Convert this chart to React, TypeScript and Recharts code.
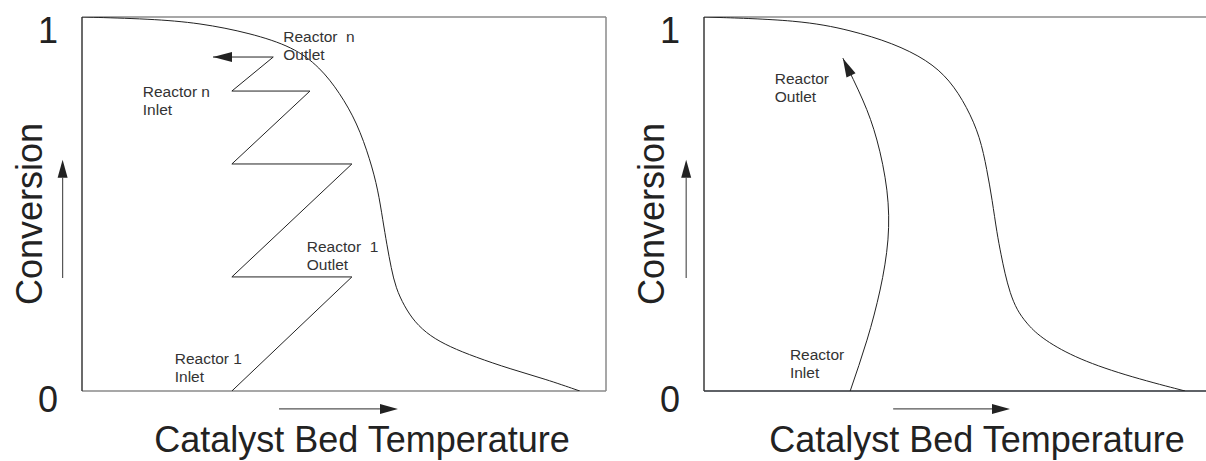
import React from 'react';
import { LineChart, Line, XAxis, YAxis, ReferenceLine, ReferenceDot, Label } from 'recharts';

type Pt = { x: number; y: number };
type Note = { x: number; y: number; lines: string[] };

// equilibrium conversion vs bed temperature (both panels, normalised 0..1)
const equilLeft: Pt[] = [
  { x: 0, y: 1 }, { x: 0.13, y: 0.995 }, { x: 0.225, y: 0.984 }, { x: 0.321, y: 0.957 },
  { x: 0.403, y: 0.92 }, { x: 0.454, y: 0.866 }, { x: 0.492, y: 0.797 }, { x: 0.525, y: 0.717 },
  { x: 0.55, y: 0.618 }, { x: 0.565, y: 0.537 }, { x: 0.574, y: 0.457 }, { x: 0.582, y: 0.39 },
  { x: 0.59, y: 0.329 }, { x: 0.599, y: 0.275 }, { x: 0.615, y: 0.227 }, { x: 0.635, y: 0.184 },
  { x: 0.664, y: 0.147 }, { x: 0.702, y: 0.118 }, { x: 0.75, y: 0.091 }, { x: 0.817, y: 0.059 },
  { x: 0.884, y: 0.032 }, { x: 0.95, y: 0 },
];

// adiabatic beds with interstage cooling
const stagesLeft: Pt[] = [
  { x: 0.286, y: 0 }, { x: 0.515, y: 0.305 }, { x: 0.286, y: 0.305 }, { x: 0.515, y: 0.607 },
  { x: 0.286, y: 0.607 }, { x: 0.435, y: 0.802 }, { x: 0.286, y: 0.802 }, { x: 0.365, y: 0.893 },
  { x: 0.25, y: 0.893 },
];

const equilRight: Pt[] = [
  { x: 0, y: 1 }, { x: 0.183, y: 0.992 }, { x: 0.279, y: 0.965 }, { x: 0.361, y: 0.93 },
  { x: 0.426, y: 0.885 }, { x: 0.469, y: 0.832 }, { x: 0.502, y: 0.759 }, { x: 0.527, y: 0.679 },
  { x: 0.54, y: 0.591 }, { x: 0.55, y: 0.511 }, { x: 0.559, y: 0.422 }, { x: 0.567, y: 0.364 },
  { x: 0.574, y: 0.316 }, { x: 0.584, y: 0.262 }, { x: 0.597, y: 0.217 }, { x: 0.615, y: 0.182 },
  { x: 0.641, y: 0.144 }, { x: 0.704, y: 0.091 }, { x: 0.8, y: 0.043 }, { x: 0.918, y: 0 },
];

// cooled reactor path
const pathRight: Pt[] = [
  { x: 0.279, y: 0 }, { x: 0.311, y: 0.136 }, { x: 0.336, y: 0.27 }, { x: 0.351, y: 0.404 },
  { x: 0.349, y: 0.537 }, { x: 0.33, y: 0.671 }, { x: 0.303, y: 0.778 }, { x: 0.265, y: 0.89 },
];

const yTicks = [0, 1];
const xTitle = 'Catalyst Bed Temperature';
const yTitle = 'Conversion';

const notesLeft: Note[] = [
  { x: 0.384, y: 0.933, lines: ['Reactor  n', 'Outlet'] },
  { x: 0.116, y: 0.786, lines: ['Reactor n', 'Inlet'] },
  { x: 0.429, y: 0.372, lines: ['Reactor  1', 'Outlet'] },
  { x: 0.177, y: 0.072, lines: ['Reactor 1', 'Inlet'] },
];
const notesRight: Note[] = [
  { x: 0.135, y: 0.821, lines: ['Reactor', 'Outlet'] },
  { x: 0.164, y: 0.083, lines: ['Reactor', 'Inlet'] },
];

// "increasing" arrows beside the axes
const axisArrowsLeft: Pt[][] = [
  [{ x: -0.037, y: 0.302 }, { x: -0.037, y: 0.618 }],
  [{ x: 0.376, y: -0.048 }, { x: 0.603, y: -0.048 }],
];
const axisArrowsRight: Pt[][] = [
  [{ x: -0.034, y: 0.302 }, { x: -0.034, y: 0.618 }],
  [{ x: 0.361, y: -0.048 }, { x: 0.584, y: -0.048 }],
];

const FONT = '"Liberation Sans", Arial, sans-serif';
const INK = '#222';

const arrowShape = (shaft: boolean, len = 18, half = 5) => (p: any) => {
  const { x1, y1, x2, y2 } = p;
  const a = Math.atan2(y2 - y1, x2 - x1);
  const bx = x2 - len * Math.cos(a);
  const by = y2 - len * Math.sin(a);
  const nx = -Math.sin(a) * half;
  const ny = Math.cos(a) * half;
  return (
    <g>
      {shaft && <line x1={x1} y1={y1} x2={bx} y2={by} stroke="#555" strokeWidth={1.2} />}
      <polygon points={`${x2},${y2} ${bx + nx},${by + ny} ${bx - nx},${by - ny}`} fill={INK} />
    </g>
  );
};

const noteShape = (lines: string[]) => (p: any) => (
  <text x={p.cx} y={p.cy} fontFamily={FONT} fontSize={15.5} fill="#333">
    {lines.map((l, i) => (
      <tspan key={i} x={p.cx} dy={i === 0 ? 0 : 18} style={{ whiteSpace: 'pre' }}>{l}</tspan>
    ))}
  </text>
);

interface PanelProps {
  equil: Pt[];
  path: Pt[];
  pathType: 'linear' | 'natural';
  notes: Note[];
  axisArrows: Pt[][];
  yWidth: number;
  rightMargin: number;
  xTitleShift: number;
  leftFrame: string;
  bottomFrame: string;
}

const Panel: React.FC<PanelProps> = ({ equil, path, pathType, notes, axisArrows, yWidth, rightMargin, xTitleShift, leftFrame, bottomFrame }) => {
  const tail = path[path.length - 2];
  const tip = path[path.length - 1];
  return (
    <LineChart width={620} height={461} margin={{ top: 17, right: rightMargin, left: 0, bottom: 0 }}>
      <XAxis type="number" dataKey="x" domain={[0, 1]} allowDataOverflow tick={false} axisLine={false} tickLine={false} height={70}>
        <Label
          content={(lp: any) => {
            const vb = lp.viewBox;
            return (
              <text x={vb.x + vb.width / 2 + xTitleShift} y={vb.y + 61} textAnchor="middle" fontFamily={FONT} fontSize={36} fill={INK}>
                {xTitle}
              </text>
            );
          }}
        />
      </XAxis>
      <YAxis
        type="number"
        dataKey="y"
        domain={[0, 1]}
        allowDataOverflow
        ticks={yTicks}
        interval={0}
        width={yWidth}
        axisLine={false}
        tickLine={false}
        tickSize={0}
        tickMargin={0}
        tick={(tp: any) => (
          <text x={tp.x - 34} y={tp.y + (tp.payload.value === 1 ? 26 : 21)} textAnchor="middle" fontFamily={FONT} fontSize={36} fill={INK}>
            {tp.payload.value}
          </text>
        )}
      >
        <Label
          content={(lp: any) => {
            const vb = lp.viewBox;
            const cx = vb.x + vb.width - 40;
            const cy = vb.y + vb.height / 2 + 10;
            return (
              <text x={cx} y={cy} transform={`rotate(-90 ${cx} ${cy})`} textAnchor="middle" fontFamily={FONT} fontSize={36} fill={INK}>
                {yTitle}
              </text>
            );
          }}
        />
      </YAxis>

      <ReferenceLine y={1} stroke="#8a8a8a" strokeWidth={1.5} />
      <ReferenceLine x={1} stroke="#8a8a8a" strokeWidth={1.5} />
      <ReferenceLine y={0} stroke={bottomFrame} strokeWidth={1.5} />
      <ReferenceLine x={0} stroke={leftFrame} strokeWidth={1.5} />

      <Line data={equil} dataKey="y" type="basis" stroke={INK} strokeWidth={1} dot={false} activeDot={false} isAnimationActive={false} />
      <Line data={path} dataKey="y" type={pathType} stroke={INK} strokeWidth={1} dot={false} activeDot={false} isAnimationActive={false} />

      <ReferenceLine segment={[tail, tip]} ifOverflow="visible" shape={arrowShape(false, 19, 5)} />
      {axisArrows.map((seg, i) => (
        <ReferenceLine key={i} segment={seg as any} ifOverflow="visible" shape={arrowShape(true, 18, 5)} />
      ))}
      {notes.map((n, i) => (
        <ReferenceDot key={i} x={n.x} y={n.y} r={0} ifOverflow="visible" shape={noteShape(n.lines)} />
      ))}
    </LineChart>
  );
};

export default function App() {
  return (
    <div style={{ position: 'absolute', left: 0, top: 0, width: 1206, height: 461, overflow: 'hidden', background: '#fff' }}>
      <div style={{ position: 'absolute', left: 0, top: 0 }}>
        <Panel
          equil={equilLeft}
          path={stagesLeft}
          pathType="linear"
          notes={notesLeft}
          axisArrows={axisArrowsLeft}
          yWidth={82}
          rightMargin={14}
          xTitleShift={18}
          leftFrame="#3a3a3a"
          bottomFrame="#8a8a8a"
        />
      </div>
      <div style={{ position: 'absolute', left: 620, top: 0 }}>
        <Panel
          equil={equilRight}
          path={pathRight}
          pathType="natural"
          notes={notesRight}
          axisArrows={axisArrowsRight}
          yWidth={84}
          rightMargin={12}
          xTitleShift={11}
          leftFrame="#3a3a3a"
          bottomFrame="#2a2e35"
        />
      </div>
    </div>
  );
}
